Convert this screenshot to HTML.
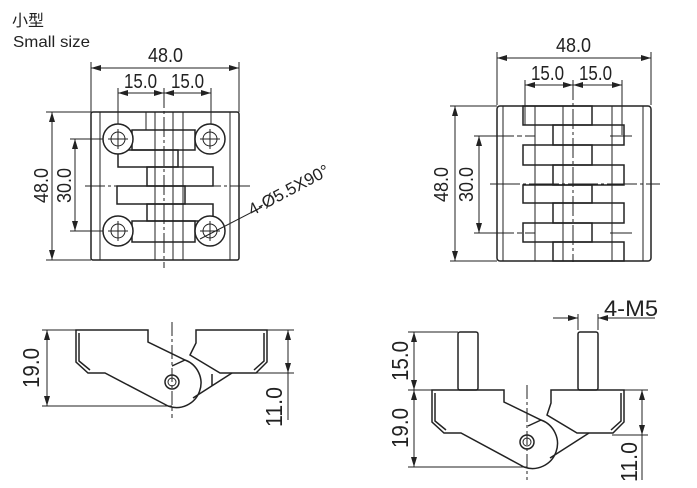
<!DOCTYPE html>
<html><head><meta charset="utf-8"><style>
html,body{margin:0;padding:0;background:#fff;}
svg{display:block}
text{font-family:"Liberation Sans","Noto Sans CJK SC",sans-serif;fill:#222}
</style></head><body>
<svg width="697" height="488" viewBox="0 0 697 488" xmlns="http://www.w3.org/2000/svg">
<defs>
<marker id="a" viewBox="0 0 10 6" refX="10" refY="3" markerWidth="10" markerHeight="6" orient="auto-start-reverse" markerUnits="userSpaceOnUse"><path d="M0,0 L10,3 L0,6 z" fill="#222"/></marker>
</defs>
<text x="12" y="26" font-size="16">小型</text>
<text x="13" y="47" font-size="16" textLength="77" lengthAdjust="spacingAndGlyphs">Small size</text>

<g stroke="#222" fill="none" stroke-width="1">
<line x1="91" y1="62" x2="91" y2="112"/><line x1="239" y1="62" x2="239" y2="112"/>
<line x1="91" y1="68" x2="239" y2="68" marker-start="url(#a)" marker-end="url(#a)"/>
<line x1="118" y1="88" x2="118" y2="139"/><line x1="211" y1="88" x2="211" y2="139"/>
<line x1="118" y1="93" x2="164" y2="93" marker-start="url(#a)" marker-end="url(#a)"/>
<line x1="164" y1="93" x2="211" y2="93" marker-start="url(#a)" marker-end="url(#a)"/>
<line x1="164" y1="88" x2="164" y2="268" stroke-dasharray="20,3,3,3"/>
<line x1="46" y1="112" x2="91" y2="112"/><line x1="46" y1="260" x2="91" y2="260"/>
<line x1="52" y1="112" x2="52" y2="260" marker-start="url(#a)" marker-end="url(#a)"/>
<line x1="70" y1="139" x2="118" y2="139"/><line x1="70" y1="231" x2="118" y2="231"/>
<line x1="75" y1="139" x2="75" y2="231" marker-start="url(#a)" marker-end="url(#a)"/>
<line x1="85" y1="186" x2="250" y2="186" stroke-dasharray="20,3,3,3"/>
<rect x="91" y="112" width="148" height="148" rx="2" stroke-width="1.5"/>
<line x1="100" y1="112" x2="100" y2="260"/><line x1="230" y1="112" x2="230" y2="260"/>
<g stroke-width="1.5">
<rect x="132" y="130" width="63" height="20"/>
<rect x="118" y="150" width="60" height="17"/>
<rect x="147" y="167" width="66" height="19"/>
<rect x="117" y="186" width="68" height="18"/>
<rect x="147" y="204" width="66" height="17"/>
<rect x="132" y="221" width="63" height="21"/>
</g>
<line x1="155" y1="112" x2="155" y2="260"/><line x1="173" y1="112" x2="173" y2="260"/><line x1="183" y1="112" x2="183" y2="260"/>
<line x1="146" y1="112" x2="146" y2="130"/>
<g fill="#fff" stroke-width="1.5">
<circle cx="118" cy="139" r="15"/><circle cx="210" cy="139" r="15"/>
<circle cx="118" cy="231" r="15"/><circle cx="210" cy="231" r="15"/>
</g>
<circle cx="118" cy="139" r="7"/><circle cx="210" cy="139" r="7"/>
<circle cx="118" cy="231" r="7"/><circle cx="210" cy="231" r="7"/>
<path d="M108,139h20M118,129v20M200,139h20M210,129v20M108,231h20M118,221v20M200,231h20M210,221v20"/>
<line x1="85" y1="139" x2="103" y2="139"/><line x1="85" y1="231" x2="103" y2="231"/>
<line x1="200" y1="239" x2="262" y2="207"/>

<line x1="497" y1="52" x2="497" y2="105"/><line x1="651" y1="52" x2="651" y2="105"/>
<line x1="497" y1="58" x2="651" y2="58" marker-start="url(#a)" marker-end="url(#a)"/>
<line x1="525" y1="80" x2="525" y2="125"/><line x1="622" y1="80" x2="622" y2="135"/>
<line x1="525" y1="85" x2="573" y2="85" marker-start="url(#a)" marker-end="url(#a)"/>
<line x1="573" y1="85" x2="622" y2="85" marker-start="url(#a)" marker-end="url(#a)"/>
<line x1="573" y1="80" x2="573" y2="262" stroke-dasharray="20,3,3,3"/>
<line x1="450" y1="106" x2="497" y2="106"/><line x1="450" y1="261" x2="497" y2="261"/>
<line x1="455" y1="106" x2="455" y2="261" marker-start="url(#a)" marker-end="url(#a)"/>
<line x1="474" y1="136" x2="535" y2="136" stroke-dasharray="40,3,5,3"/><line x1="474" y1="233" x2="535" y2="233" stroke-dasharray="40,3,5,3"/>
<line x1="479" y1="136" x2="479" y2="233" marker-start="url(#a)" marker-end="url(#a)"/>
<line x1="490" y1="184" x2="660" y2="184" stroke-dasharray="30,3,3,3"/>
<line x1="610" y1="136" x2="632" y2="136"/><line x1="610" y1="233" x2="632" y2="233"/>
<rect x="497" y="106" width="154" height="155" rx="3" stroke-width="1.5"/>
<line x1="503" y1="106" x2="503" y2="261"/><line x1="643" y1="106" x2="643" y2="261"/>
<g stroke-width="1.5">
<rect x="523" y="106" width="69" height="19"/>
<rect x="553" y="125" width="71" height="20"/>
<rect x="523" y="145" width="69" height="20"/>
<rect x="553" y="165" width="71" height="20"/>
<rect x="523" y="185" width="69" height="18"/>
<rect x="553" y="203" width="71" height="20"/>
<rect x="523" y="223" width="69" height="19"/>
<rect x="553" y="242" width="71" height="19"/>
</g>
<line x1="535" y1="106" x2="535" y2="261"/><line x1="563" y1="106" x2="563" y2="261"/><line x1="612" y1="106" x2="612" y2="261"/>

<line x1="42" y1="330" x2="76" y2="330"/><line x1="42" y1="406" x2="172" y2="406"/>
<line x1="47" y1="330" x2="47" y2="406" marker-start="url(#a)" marker-end="url(#a)"/>
<line x1="267" y1="330" x2="294" y2="330"/><line x1="256" y1="373" x2="294" y2="373"/>
<line x1="288" y1="330" x2="288" y2="373" marker-start="url(#a)" marker-end="url(#a)"/>
<line x1="288" y1="373" x2="288" y2="420"/>
<line x1="172" y1="322" x2="172" y2="418" stroke-dasharray="14,3,3,3"/>
<g stroke-width="1.5">
<path d="M76,330 L148,330 L148,342 L185,360 A24,24 0 0 1 168,406 L105,373 L88,373 L76,362 Z"/>
<path d="M79,333 L79,361 L90,370"/>
<path d="M196,330 L267,330 L267,362 L256,373 L220,373 L190,355 L196,343 Z"/>
<path d="M264,333 L264,361 L254,370"/>
<path d="M232,373 L193,398"/>
<path d="M185,360 L172,366"/>
<path d="M212,374 L212,386"/>
</g>
<circle cx="172" cy="382" r="7" stroke-width="1.5"/><circle cx="172" cy="382" r="4"/>

<line x1="408" y1="332" x2="458" y2="332"/><line x1="408" y1="390" x2="432" y2="390"/><line x1="408" y1="467" x2="527" y2="467"/>
<line x1="414" y1="332" x2="414" y2="390" marker-start="url(#a)" marker-end="url(#a)"/>
<line x1="414" y1="390" x2="414" y2="467" marker-start="url(#a)" marker-end="url(#a)"/>
<line x1="624" y1="390" x2="648" y2="390"/><line x1="612" y1="435" x2="648" y2="435"/>
<line x1="642" y1="390" x2="642" y2="435" marker-start="url(#a)" marker-end="url(#a)"/>
<line x1="642" y1="435" x2="642" y2="480"/>
<line x1="578" y1="314" x2="578" y2="330"/><line x1="598" y1="314" x2="598" y2="330"/>
<line x1="553" y1="318" x2="578" y2="318" marker-end="url(#a)"/>
<line x1="598" y1="318" x2="655" y2="318" marker-start="url(#a)"/>
<line x1="527" y1="385" x2="527" y2="480" stroke-dasharray="14,3,3,3"/>
<g stroke-width="1.5">
<rect x="458" y="332" width="20" height="58" rx="2"/>
<rect x="578" y="332" width="20" height="58" rx="2"/>
<path d="M432,390 L504,390 L504,402 L541,420 A24,24 0 0 1 524,467 L461,433 L444,433 L432,422 Z"/>
<path d="M435,393 L435,421 L446,430"/>
<path d="M551,390 L624,390 L624,422 L613,433 L577,433 L547,415 L551,403 Z"/>
<path d="M621,393 L621,421 L611,430"/>
<path d="M589,433 L550,458"/>
<path d="M541,420 L528,426"/>
</g>
<circle cx="527" cy="442" r="7" stroke-width="1.5"/><circle cx="527" cy="442" r="4"/>
</g>

<g font-size="20">
<text x="148" y="62" textLength="35" lengthAdjust="spacingAndGlyphs">48.0</text>
<text x="124" y="88" textLength="33" lengthAdjust="spacingAndGlyphs">15.0</text>
<text x="171" y="88" textLength="33" lengthAdjust="spacingAndGlyphs">15.0</text>
<text transform="translate(48,203) rotate(-90)" textLength="35" lengthAdjust="spacingAndGlyphs">48.0</text>
<text transform="translate(71,203) rotate(-90)" textLength="35" lengthAdjust="spacingAndGlyphs">30.0</text>
<text transform="translate(252,216) rotate(-28)" font-size="17">4-Ø5.5X90°</text>

<text x="556" y="52" textLength="35" lengthAdjust="spacingAndGlyphs">48.0</text>
<text x="531" y="80" textLength="33" lengthAdjust="spacingAndGlyphs">15.0</text>
<text x="579" y="80" textLength="33" lengthAdjust="spacingAndGlyphs">15.0</text>
<text transform="translate(448,202) rotate(-90)" textLength="35" lengthAdjust="spacingAndGlyphs">48.0</text>
<text transform="translate(473,202) rotate(-90)" textLength="35" lengthAdjust="spacingAndGlyphs">30.0</text>

<text transform="translate(39,388) rotate(-90)" font-size="23" textLength="40" lengthAdjust="spacingAndGlyphs">19.0</text>
<text transform="translate(282,427) rotate(-90)" font-size="23" textLength="40" lengthAdjust="spacingAndGlyphs">11.0</text>
<text transform="translate(408,381) rotate(-90)" font-size="23" textLength="40" lengthAdjust="spacingAndGlyphs">15.0</text>
<text transform="translate(408,448) rotate(-90)" font-size="23" textLength="40" lengthAdjust="spacingAndGlyphs">19.0</text>
<text transform="translate(637,482) rotate(-90)" font-size="23" textLength="40" lengthAdjust="spacingAndGlyphs">11.0</text>
<text x="604" y="316" font-size="22" textLength="54" lengthAdjust="spacingAndGlyphs">4-M5</text>
</g>
</svg>
</body></html>
